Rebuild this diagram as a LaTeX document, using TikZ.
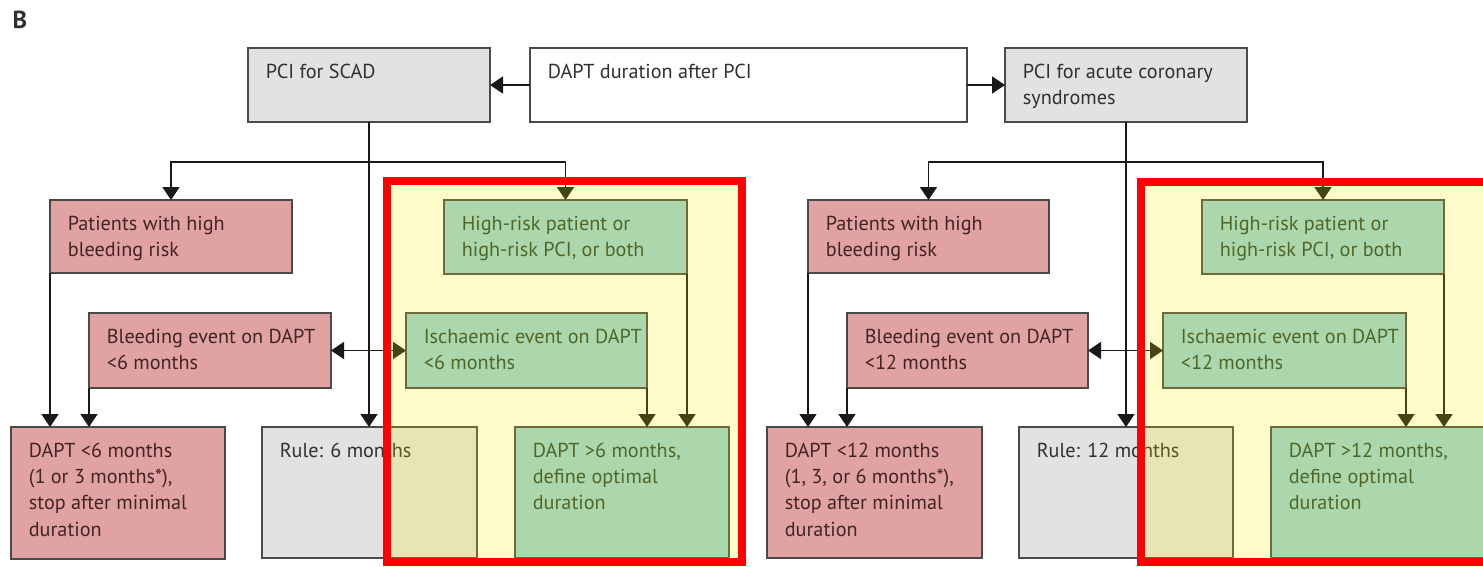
\documentclass[tikz,border=0pt]{standalone}
\usepackage{fontspec}
\setmainfont{PT Sans}
\usetikzlibrary{arrows.meta}

\definecolor{boxgray}{HTML}{E1E2E4}
\definecolor{boxred}{HTML}{E0A2A2}
\definecolor{boxgreen}{HTML}{98D0D6}
\definecolor{edgegray}{HTML}{4A4A4A}
\definecolor{textgray}{HTML}{303030}
\definecolor{textred}{HTML}{432424}
\definecolor{textgreen}{HTML}{244434}

\tikzset{
  box/.style={draw=edgegray, line width=0.9pt, anchor=north west, inner sep=0pt, outer sep=0pt},
  sz/.style 2 args={minimum width=#1*0.02cm, minimum height=#2*0.02cm},
  txt/.style={anchor=north west, inner sep=0pt, xshift=0.35cm, yshift=-0.31cm, align=left,
    font=\fontsize{11.5}{15}\selectfont},
  graybox/.style={box, fill=boxgray},
  redbox/.style={box, fill=boxred},
  greenbox/.style={box, fill=boxgreen},
  arr/.style={-{Triangle[length=0.26cm,width=0.34cm]}, line width=1pt, draw=black!90},
  dbl/.style={{Triangle[length=0.26cm,width=0.34cm]}-{Triangle[length=0.26cm,width=0.34cm]}, line width=1pt, draw=black!90},
  frame/.style={draw=red, line width=0.16cm, fill=yellow, fill opacity=0.2}
}

\begin{document}
\begin{tikzpicture}[x=0.02cm, y=-0.02cm]
\useasboundingbox (0,0) rectangle (1483,566);
\clip (0,0) rectangle (1483,566);

\node[font=\fontsize{14}{16}\selectfont\bfseries, text=textgray] (panel) at (20,20) {B};

% top row
\node[graybox, sz={242}{74}, label={[txt, textgray]north west:PCI for SCAD}] (scad) at (248,48) {};
\node[box, fill=white, sz={437}{74}, label={[txt, textgray]north west:DAPT duration after PCI}] (dur) at (530,48) {};
\node[graybox, sz={242}{74}, label={[txt, textgray]north west:{PCI for acute coronary\\syndromes}}] (acs) at (1005,48) {};

\coordinate (lv) at (0,162);

% SCAD side
\node[redbox, sz={242}{73}, label={[txt, textred]north west:{Patients with high\\bleeding risk}}] (pat1) at (50,200) {};
\node[greenbox, sz={243}{74}, label={[txt, textgreen]north west:{High-risk patient or\\high-risk PCI, or both}}] (hr1) at (444,200) {};
\node[redbox, sz={242}{75}, label={[txt, textred]north west:{Bleeding event on DAPT\\<6 months}}] (bl1) at (89,313) {};
\node[greenbox, sz={241}{75}, label={[txt, textgreen]north west:{Ischaemic event on DAPT\\<6 months}}] (isc1) at (406,313) {};
\node[redbox, sz={214}{132}, label={[txt, textred]north west:{DAPT <6 months\\(1 or 3 months*),\\stop after minimal\\duration}}] (dlt1) at (11,427) {};
\node[graybox, sz={215}{131}, label={[txt, textgray]north west:{Rule: 6 months}}] (rule1) at (262,427) {};
\node[greenbox, sz={214}{131}, label={[txt, textgreen]north west:{DAPT >6 months,\\define optimal\\duration}}] (dgt1) at (515,427) {};

% ACS side
\node[redbox, sz={241}{73}, label={[txt, textred]north west:{Patients with high\\bleeding risk}}] (pat2) at (808,200) {};
\node[greenbox, sz={242}{74}, label={[txt, textgreen]north west:{High-risk patient or\\high-risk PCI, or both}}] (hr2) at (1202,200) {};
\node[redbox, sz={241}{75}, label={[txt, textred]north west:{Bleeding event on DAPT\\<12 months}}] (bl2) at (847,313) {};
\node[greenbox, sz={243}{75}, label={[txt, textgreen]north west:{Ischaemic event on DAPT\\<12 months}}] (isc2) at (1163,313) {};
\node[redbox, sz={215}{131}, label={[txt, textred]north west:{DAPT <12 months\\(1, 3, or 6 months*),\\stop after minimal\\duration}}] (dlt2) at (767,427) {};
\node[graybox, sz={214}{131}, label={[txt, textgray]north west:{Rule: 12 months}}] (rule2) at (1019,427) {};
\node[greenbox, sz={220}{131}, label={[txt, textgreen]north west:{DAPT >12 months,\\define optimal\\duration}}] (dgt2) at (1271,427) {};

% connectors
\draw[arr] (dur) -- (scad);
\draw[arr] (dur) -- (acs);

\draw[arr] (scad.south) -- (scad.south |- rule1.north);
\draw[arr] (scad.south |- lv) -| (pat1.north);
\draw[arr] (scad.south |- lv) -| (hr1.north);
\draw[arr] (pat1.south west) -- (pat1.south west |- dlt1.north);
\draw[arr] (bl1.south west) -- (bl1.south west |- dlt1.north);
\draw[dbl] (bl1) -- (isc1);
\draw[arr] (isc1.south east) -- (isc1.south east |- dgt1.north);
\draw[arr] (hr1.south east) -- (hr1.south east |- dgt1.north);

\draw[arr] (acs.south) -- (acs.south |- rule2.north);
\draw[arr] (acs.south |- lv) -| (pat2.north);
\draw[arr] (acs.south |- lv) -| (hr2.north);
\draw[arr] (pat2.south west) -- (pat2.south west |- dlt2.north);
\draw[arr] (bl2.south west) -- (bl2.south west |- dlt2.north);
\draw[dbl] (bl2) -- (isc2);
\draw[arr] (isc2.south east) -- (isc2.south east |- dgt2.north);
\draw[arr] (hr2.south east) -- (hr2.south east |- dgt2.north);

% highlighted regions
\draw[frame] (387,181) rectangle (742,562);
\draw[frame] (1141,182) rectangle (1510,562);
\end{tikzpicture}
\end{document}
